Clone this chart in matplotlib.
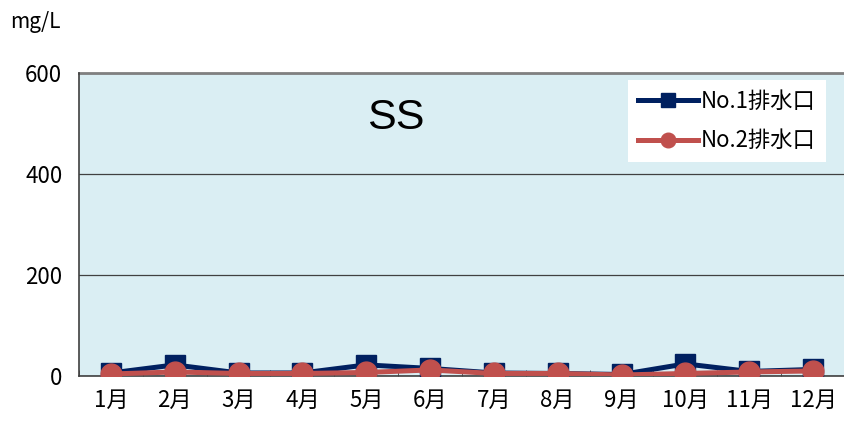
import matplotlib.pyplot as plt
from matplotlib.ticker import MultipleLocator

plt.rcParams['font.family'] = ['Noto Sans CJK JP', 'DejaVu Sans']

months = ['1月', '2月', '3月', '4月', '5月', '6月', '7月', '8月', '9月', '10月', '11月', '12月']
no1 = [6, 22, 6, 6, 22, 15, 6, 5, 3, 24, 9, 13]
no2 = [4, 8, 5, 5, 7, 12, 5, 5, 2, 5, 8, 10]
series_names = ['No.1排水口', 'No.2排水口']

fig = plt.figure(figsize=(8.45, 4.23), dpi=100)
ax = fig.add_axes([79 / 845, 1 - 376 / 423, 766 / 845, 303 / 423])
ax.set_facecolor('#DAEEF3')

x = list(range(len(months)))
ax.plot(x, no1, color='#002060', lw=3.6, marker='s', ms=15, mec='#002060', mfc='#002060',
        label=series_names[0], zorder=3)
ax.plot(x, no2, color='#C0504D', lw=3.6, marker='o', ms=15, mec='#C0504D', mfc='#C0504D',
        label=series_names[1], zorder=4)

ax.set_xlim(-0.5, 11.5)
ax.set_ylim(0, 600)
ax.set_yticks([0, 200, 400, 600])
ax.set_xticks(x)
ax.set_xticklabels(months)
ax.xaxis.set_minor_locator(MultipleLocator(1, offset=0.5))
ax.tick_params(axis='x', which='major', length=0, labelsize=16, pad=9)
ax.tick_params(axis='x', which='minor', length=4, direction='in', color='#404040')
ax.tick_params(axis='y', length=0, labelsize=16, pad=12)
ax.yaxis.grid(True, color='#404040', lw=0.9)
ax.set_axisbelow(True)

for s in ['top', 'right']:
    ax.spines[s].set_visible(False)
ax.spines['left'].set_color('#404040')
ax.spines['bottom'].set_color('#404040')
ax.spines['left'].set_linewidth(1.2)
ax.spines['bottom'].set_linewidth(1.2)
ax.axhline(600, color='#808080', lw=2, clip_on=False)

ax.text(0.414, 0.85, 'SS', transform=ax.transAxes, fontsize=31, ha='center', va='center',
        family=['Liberation Sans', 'DejaVu Sans'])
fig.text(10 / 845, 1 - 22 / 423, 'mg/L', fontsize=15, va='center', ha='left')

leg = ax.legend(loc='upper right', bbox_to_anchor=(0.975, 0.978), fontsize=16, frameon=True,
                fancybox=False, edgecolor='none', facecolor='white', framealpha=1,
                markerscale=0.7, handlelength=2.7, handletextpad=0.15, labelspacing=0.75,
                borderpad=0.45, borderaxespad=0)

fig.savefig('out.png', dpi=100)
